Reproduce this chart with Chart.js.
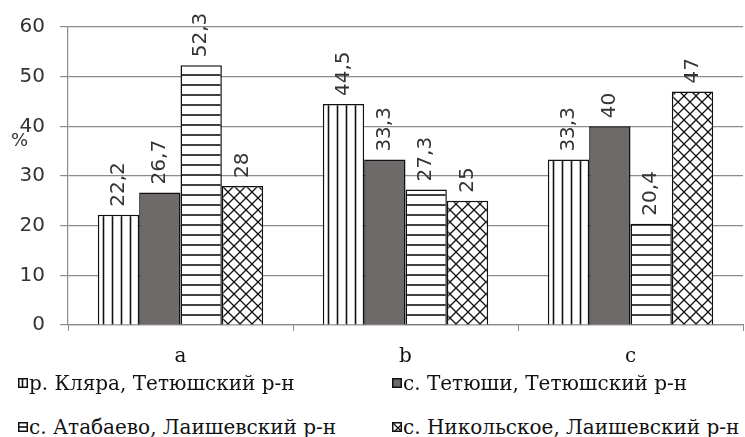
<!DOCTYPE html>
<html>
<head>
<meta charset="utf-8">
<script src="https://cdn.jsdelivr.net/npm/chart.js"></script>
<style>
  body { margin: 0; background: #fff; }
  #wrap { position: relative; width: 745px; height: 437px; overflow: hidden; }
  #chartBox { position: absolute; left: 0; top: 0; width: 745px; height: 375px; }
  #yTitle { position: absolute; left: 11px; top: 128px; font-family: "DejaVu Sans", sans-serif; font-size: 18px; line-height: 24px; color: #333; }
  .leg { position: absolute; font-family: "DejaVu Serif", serif; font-size: 20px; line-height: 26px; color: #111; display: flex; align-items: center; white-space: nowrap; }
  .leg canvas { width: 10px; height: 10px; margin-right: 1px; }
</style>
</head>
<body>
<div id="wrap">
  <div id="chartBox"><canvas id="chart"></canvas></div>
  <div id="yTitle">%</div>
  <div id="legend"></div>
</div>
<script>
    'use strict';

    // chart data
    const categories = ['a', 'b', 'c'];
    const seriesNames = [
        'р. Кляра, Тетюшский р-н',
        'с. Тетюши, Тетюшский р-н',
        'с. Атабаево, Лаишевский р-н',
        'с. Никольское, Лаишевский р-н'
    ];
    const klyara = [22.2, 44.5, 33.3];
    const tetyushi = [26.7, 33.3, 40];
    const atabaevo = [52.3, 27.3, 20.4];
    const nikolskoe = [28, 25, 47];
    const yTicks = [0, 10, 20, 30, 40, 50, 60];

    // fill patterns
    function makePattern(kind) {
        const c = document.createElement('canvas');
        const size = kind === 'cross' ? 12 : (kind === 'vert' ? 9 : 10);
        c.width = size; c.height = size;
        const g = c.getContext('2d');
        g.fillStyle = '#fff';
        g.fillRect(0, 0, size, size);
        g.strokeStyle = '#111';
        g.lineWidth = 1.6;
        g.beginPath();
        if (kind === 'vert') {
            g.moveTo(size / 2, 0); g.lineTo(size / 2, size);
        } else if (kind === 'horiz') {
            g.moveTo(0, size / 2); g.lineTo(size, size / 2);
        } else {
            g.lineWidth = 1.3;
            g.moveTo(0, 0); g.lineTo(size, size);
            g.moveTo(size, 0); g.lineTo(0, size);
        }
        g.stroke();
        return g.createPattern(c, 'repeat');
    }

    const fills = [makePattern('vert'), '#6f6a6a', makePattern('horiz'), makePattern('cross')];
    const values = [klyara, tetyushi, atabaevo, nikolskoe];

    // rotated value labels above each bar
    const valueLabels = {
        id: 'valueLabels',
        afterDatasetsDraw(chart) {
            const ctx = chart.ctx;
            ctx.save();
            ctx.font = '20px "DejaVu Sans", sans-serif';
            ctx.fillStyle = '#333';
            ctx.textAlign = 'left';
            ctx.textBaseline = 'middle';
            chart.data.datasets.forEach((ds, i) => {
                chart.getDatasetMeta(i).data.forEach((bar, j) => {
                    ctx.save();
                    ctx.translate(bar.x, bar.y - 8);
                    ctx.rotate(-Math.PI / 2);
                    ctx.fillText(String(ds.data[j]).replace('.', ','), 0, 0);
                    ctx.restore();
                });
            });
            ctx.restore();
        }
    };

    const chart = new Chart(document.getElementById('chart'), {
        type: 'bar',
        data: {
            labels: categories,
            datasets: seriesNames.map((name, i) => ({
                label: name,
                data: values[i],
                backgroundColor: fills[i],
                borderColor: '#111',
                borderWidth: 1.5,
                categoryPercentage: 0.735,
                barPercentage: 1.0
            }))
        },
        options: {
            responsive: true,
            maintainAspectRatio: false,
            animation: false,
            layout: { padding: { top: 25, right: 2, left: 0, bottom: 0 } },
            plugins: {
                legend: { display: false },
                tooltip: { enabled: false }
            },
            scales: {
                y: {
                    min: 0,
                    max: 60,
                    afterFit: (s) => { s.width = 68; },
                    afterBuildTicks: (s) => { s.ticks = yTicks.map(v => ({ value: v })); },
                    ticks: {
                        padding: 15,
                        color: '#333',
                        font: { family: '"DejaVu Sans", sans-serif', size: 20 }
                    },
                    grid: { color: '#8c8c8c', lineWidth: 1.2, tickLength: 8 },
                    border: { color: '#8c8c8c', width: 1.2 }
                },
                x: {
                    afterFit: (s) => { s.height = 50; },
                    ticks: {
                        padding: 14,
                        color: '#111',
                        font: { family: '"DejaVu Serif", serif', size: 20 }
                    },
                    grid: { offset: true, drawOnChartArea: false, color: '#8c8c8c', tickLength: 6 },
                    border: { color: '#8c8c8c', width: 1.2 }
                }
            }
        },
        plugins: [valueLabels]
    });

    // legend below the chart, two columns
    const legendPos = [[18, 370], [392, 370], [18, 414], [392, 414]];
    const legendBox = document.getElementById('legend');
    seriesNames.forEach((name, i) => {
        const item = document.createElement('div');
        item.className = 'leg';
        item.style.left = legendPos[i][0] + 'px';
        item.style.top = legendPos[i][1] + 'px';
        const sw = document.createElement('canvas');
        sw.width = 10; sw.height = 10;
        const g = sw.getContext('2d');
        g.fillStyle = fills[i];
        g.fillRect(0, 0, 10, 10);
        g.strokeStyle = '#111';
        g.lineWidth = 1.5;
        g.strokeRect(0.75, 0.75, 8.5, 8.5);
        item.appendChild(sw);
        const t = document.createElement('span');
        t.textContent = name;
        item.appendChild(t);
        legendBox.appendChild(item);
    });
</script>
</body>
</html>
